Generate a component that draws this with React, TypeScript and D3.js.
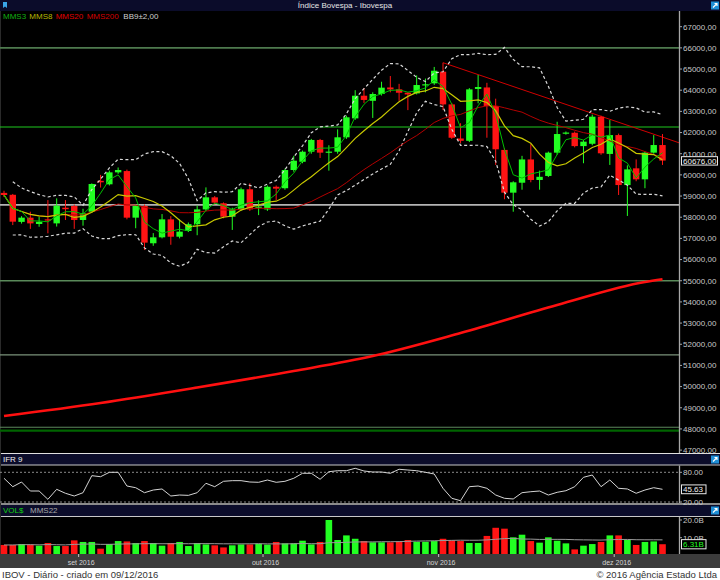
import React, { useEffect, useRef } from "react";
import * as d3 from "d3";

// pregões de 19/08/2016 a 08/12/2016
const dates = [
  "2016-08-19", "2016-08-22", "2016-08-23", "2016-08-24", "2016-08-25", "2016-08-26", "2016-08-29", "2016-08-30", "2016-08-31",
  "2016-09-01", "2016-09-02", "2016-09-05", "2016-09-06", "2016-09-08", "2016-09-09", "2016-09-12", "2016-09-13", "2016-09-14",
  "2016-09-15", "2016-09-16", "2016-09-19", "2016-09-20", "2016-09-21", "2016-09-22", "2016-09-23", "2016-09-26", "2016-09-27",
  "2016-09-28", "2016-09-29", "2016-09-30",
  "2016-10-03", "2016-10-04", "2016-10-05", "2016-10-06", "2016-10-07", "2016-10-10", "2016-10-11", "2016-10-13", "2016-10-14",
  "2016-10-17", "2016-10-18", "2016-10-19", "2016-10-20", "2016-10-21", "2016-10-24", "2016-10-25", "2016-10-26", "2016-10-27",
  "2016-10-28", "2016-10-31",
  "2016-11-01", "2016-11-03", "2016-11-04", "2016-11-07", "2016-11-08", "2016-11-09", "2016-11-10", "2016-11-11", "2016-11-14",
  "2016-11-16", "2016-11-17", "2016-11-18", "2016-11-21", "2016-11-22", "2016-11-23", "2016-11-24", "2016-11-25", "2016-11-28",
  "2016-11-29", "2016-11-30",
  "2016-12-01", "2016-12-02", "2016-12-05", "2016-12-06", "2016-12-07", "2016-12-08",
];

const opens = [
  59150, 59060, 57780, 57980, 57680, 57900, 57710, 58450, 58530, 57870, 58260, 59720, 59555, 60120, 60180, 57980, 58530, 56770,
  57050, 57900, 57080, 57350, 57670, 58370, 58940, 58660, 58025, 58370, 59320, 58450, 58370, 59440, 59370, 60230, 60620, 61095,
  61650, 61050, 61095, 61775, 62670, 63740, 63500, 63820, 64130, 64040, 63880, 63850, 64250, 64325, 64875, 63330, 61720, 61610,
  64060, 64130, 63255, 61180, 59160, 59630, 60730, 59760, 59950, 61050, 61950, 61990, 61360, 61470, 62750, 60990, 61880, 59520,
  60310, 59790, 61050, 61410,
];
const highs = [
  59250, 59100, 58050, 58260, 58025, 58810, 58890, 58810, 58600, 58400, 59600, 60000, 60200, 60350, 60250, 58600, 58600, 57250,
  58150, 58050, 57900, 57750, 58550, 59410, 59000, 58700, 58450, 59400, 59600, 58800, 59500, 59500, 60300, 60900, 61150, 61700,
  61700, 61400, 62150, 62800, 64000, 64100, 63900, 64400, 64670, 64300, 63900, 64700, 64550, 65100, 65300, 63400, 62440, 64100,
  64720, 64350, 63600, 61250, 59700, 60900, 61450, 60200, 61100, 62510, 62050, 62050, 61650, 62850, 62800, 62590, 61950, 60450,
  60730, 61100, 61880, 61930,
];
const lows = [
  58950, 57630, 57700, 57450, 57550, 57240, 57560, 57870, 57450, 57600, 58200, 59400, 59500, 60050, 57900, 57480, 56450, 56650,
  57000, 56700, 57000, 57300, 57150, 58300, 58600, 57950, 57400, 58300, 58300, 58100, 58300, 58810, 59300, 60150, 60550, 61000,
  60800, 60200, 61000, 61700, 62600, 63400, 62690, 63750, 63900, 63500, 63060, 63800, 63900, 64250, 63060, 61700, 61500, 61550,
  63380, 61755, 60470, 58850, 58260, 59300, 59650, 59300, 59900, 60950, 61900, 61300, 60550, 61400, 60950, 60470, 59050, 58060,
  59700, 59370, 61000, 60470,
];
const closes = [
  59050, 57790, 57980, 57710, 57790, 57850, 58545, 58380, 57870, 58185, 59570, 59650, 60120, 60230, 57980, 58530, 56800, 57050,
  57900, 57080, 57320, 57670, 58370, 58940, 58690, 58025, 58370, 59320, 58370, 58500, 59440, 59350, 60230, 60670, 61095, 61650,
  61050, 61100, 61775, 62720, 63740, 63540, 63820, 64120, 64040, 63880, 63800, 64245, 64280, 64920, 63330, 61755, 61610, 64040,
  64150, 63255, 61210, 59160, 59650, 60730, 59760, 59910, 61050, 61930, 62000, 61360, 61570, 62750, 61020, 61880, 59520, 60260,
  59790, 61050, 61410, 60676,
];

// volume financeiro, em bilhões
const volumes = [
  5.9, 5.9, 6.4, 6.1, 5.5, 7.0, 5.3, 5.3, 8.5, 7.6, 7.6, 3.8, 6.4, 8.1, 7.9, 7.0, 8.1, 7.0, 5.5, 7.0, 7.6, 5.3, 7.0, 6.2, 5.7,
  4.5, 5.7, 6.2, 6.2, 6.6, 6.1, 7.6, 6.8, 6.8, 8.3, 6.2, 7.6, 20.0, 8.7, 11.3, 9.4, 8.1, 7.4, 7.4, 7.4, 7.7, 8.7, 7.7, 7.7, 8.1,
  9.4, 8.5, 8.1, 7.0, 7.0, 11.0, 15.6, 15.1, 10.2, 11.7, 8.1, 7.2, 10.2, 8.3, 6.8, 3.4, 5.5, 6.4, 7.6, 11.3, 11.3, 8.7, 5.9, 7.6,
  7.9, 6.31,
];

const ifr9 = [
  67.9, 50.9, 60.4, 42.2, 42.2, 25.4, 45.6, 37.6, 32.1, 38.8, 73.2, 71.1, 80, 80, 52.3, 48.9, 38.8, 44.2, 46.3, 32.1, 34.1, 33.4,
  38.8, 57.8, 50.9, 61.8, 63.1, 63.1, 60.4, 59.8, 64.4, 59.8, 61.8, 67.9, 78, 78, 65.9, 81.2, 83.2, 83.2, 88.1, 82.6, 80.6, 80.6,
  78.0, 86.1, 84.6, 83.2, 80, 76.6, 47.7, 27.5, 22.6, 50.9, 52.3, 47.7, 34.1, 27.5, 26.1, 38.8, 40.8, 42.2, 34.1, 39.6, 42.8, 50.9,
  69.9, 74.5, 50.9, 64.4, 47.7, 46.3, 37.6, 44.2, 48.9, 45.63,
];

// MMS200 lida em alguns pregões: [índice do pregão, valor]
const mms200 = [
  [0, 48609], [11, 49224], [22, 49956], [33, 50735], [42, 51444], [52, 52530], [63, 53853], [73, 54940], [75, 55067],
];

// linhas horizontais traçadas pelo analista
const levels = [66000, 62262, 58580, 55000, 51500, 48080, 47920];
// LTB a partir da máxima de 01/11
const trendline = [[50, 65300], [77, 61500]];

const monthNames = ["jan", "fev", "mar", "abr", "mai", "jun", "jul", "ago", "set", "out", "nov", "dez"];

function sma(values: number[], n: number) {
  return values.map((_, i) => d3.mean(values.slice(Math.max(0, i - n + 1), i + 1)) as number);
}

function bollinger(values: number[], n: number, k: number) {
  return values.map((_, i) => {
    const w = values.slice(Math.max(0, i - n + 1), i + 1);
    const m = d3.mean(w) as number;
    const sd = Math.sqrt(d3.mean(w, (v) => (v - m) * (v - m)) as number);
    return { i, up: m + k * sd, dn: m - k * sd, n: w.length };
  });
}

const FONT = "'Liberation Sans', Arial, sans-serif";
const NAVY = "#0b0c2a";
const UP = "#22ff22";
const DOWN = "#ff1414";

function icon(g: any, x: number, y: number) {
  g.append("rect").attr("x", x).attr("y", y).attr("width", 8).attr("height", 8).attr("fill", "#1f8fd6");
  g.append("path")
    .attr("d", `M${x + 2},${y + 6} L${x + 6},${y + 2} M${x + 3.5},${y + 2} L${x + 6},${y + 2} L${x + 6},${y + 4.5}`)
    .attr("stroke", "#fff")
    .attr("stroke-width", 1.1)
    .attr("fill", "none");
}

export default function App() {
  const ref = useRef<SVGSVGElement>(null);

  useEffect(() => {
    const svg = d3.select(ref.current);
    svg.selectAll("*").remove();

    const plotR = 679;
    const x = d3.scaleLinear().domain([0, dates.length - 1]).range([4, 662.5]);
    const y = d3.scaleLinear().domain([47000, 67000]).range([450.1, 26.7]);
    const yIfr = d3.scaleLinear().domain([20, 80]).range([502, 472.3]);
    const yVol = d3.scaleLinear().domain([0, 20]).range([555.4, 520]);

    // fundos
    svg.append("rect").attr("width", 720).attr("height", 580).attr("fill", "#000");
    svg.append("rect").attr("width", 720).attr("height", 11).attr("fill", NAVY);
    svg.append("rect").attr("y", 454).attr("width", 720).attr("height", 11).attr("fill", NAVY);
    svg.append("rect").attr("y", 505).attr("width", 720).attr("height", 11).attr("fill", NAVY);
    svg.append("rect").attr("y", 554).attr("width", 720).attr("height", 14).attr("fill", "#3c3c3c");
    svg.append("rect").attr("y", 568).attr("width", 720).attr("height", 12).attr("fill", "#fff");
    [[453.5, "#e0e0e0", 1], [465, "#c8c8c8", 1], [504, "#b8b8b8", 1.5], [516.5, "#c8c8c8", 1]].forEach(([yy, c, w]) => {
      svg.append("line").attr("x1", 0).attr("x2", 720).attr("y1", yy).attr("y2", yy).attr("stroke", c).attr("stroke-width", w);
    });
    svg.append("line").attr("x1", 0.5).attr("x2", 0.5).attr("y1", 11).attr("y2", 554).attr("stroke", "#2a2a2a");

    // cabeçalhos
    svg.append("path").attr("d", "M3,2 L7,2 L7,8 L5,6.5 L3,8 Z").attr("fill", "#3aa6e8");
    svg.append("text").attr("x", 345).attr("y", 7.8).attr("text-anchor", "middle").attr("fill", "#e6e6e6")
      .style("font", `8px ${FONT}`).text("Índice Bovespa - Ibovespa");
    icon(svg, 711, 1.5);
    icon(svg, 711, 455.5);
    icon(svg, 711, 506.5);
    svg.append("text").attr("x", 3).attr("y", 461.5).attr("fill", "#f0f0f0").style("font", `8px ${FONT}`).text("IFR 9");
    svg.append("text").attr("x", 3).attr("y", 513).attr("fill", "#10d010").style("font", `8px ${FONT}`).text("VOL$");
    svg.append("text").attr("x", 30).attr("y", 513).attr("fill", "#a8a8a8").style("font", `8px ${FONT}`).text("MMS22");

    // clips
    const defs = svg.append("defs");
    [["c-main", 11, 442], ["c-ifr", 465.5, 38], ["c-vol", 517, 37]].forEach(([id, yy, h]) => {
      defs.append("clipPath").attr("id", id).append("rect").attr("x", 0).attr("y", yy).attr("width", plotR).attr("height", h);
    });

    // ---- painel principal
    const main = svg.append("g").attr("clip-path", "url(#c-main)");
    const levelStyles = [
      ["#4e7a4e", 1.8], ["#1ec81e", 1.2], ["#b4b4b4", 1.8], ["#5a8a5a", 1.5], ["#7a927a", 1.2], ["#5d8a5d", 1], ["#006400", 2.2],
    ];
    levels.forEach((v, i) => {
      main.append("line").attr("x1", 0).attr("x2", plotR).attr("y1", y(v)).attr("y2", y(v))
        .attr("stroke", levelStyles[i][0]).attr("stroke-width", levelStyles[i][1]);
    });

    const idx = dates.map((_, i) => i);
    const line = (vals: number[]) => d3.line<number>().x((i) => x(i)).y((i) => y(vals[i]))(idx);

    main.append("path")
      .attr("d", d3.line<number[]>().x((d) => x(d[0])).y((d) => y(d[1])).curve(d3.curveMonotoneX)(mms200 as any))
      .attr("fill", "none").attr("stroke", "#ff1010").attr("stroke-width", 2.6);

    main.append("path")
      .attr("d", d3.line<number[]>().x((d) => x(d[0])).y((d) => y(d[1]))(trendline as any))
      .attr("fill", "none").attr("stroke", "#d00000").attr("stroke-width", 1);

    // candles
    const cg = main.append("g");
    idx.forEach((i) => {
      const up = closes[i] >= opens[i];
      const col = up ? UP : DOWN;
      const cx = x(i);
      cg.append("line").attr("x1", cx).attr("x2", cx).attr("y1", y(highs[i])).attr("y2", y(lows[i]))
        .attr("stroke", col).attr("stroke-width", 1);
      const top = y(Math.max(opens[i], closes[i]));
      const bot = y(Math.min(opens[i], closes[i]));
      cg.append("rect").attr("x", cx - 3.2).attr("width", 6.4).attr("y", top).attr("height", Math.max(1.2, bot - top))
        .attr("fill", col);
    });

    // Bandas de Bollinger (9, 2)
    const bb = bollinger(closes, 9, 2).filter((d) => d.n > 1);
    ["up", "dn"].forEach((k) => {
      main.append("path")
        .attr("d", d3.line<any>().x((d) => x(d.i)).y((d) => y(d[k]))(bb))
        .attr("fill", "none").attr("stroke", "#d8d8d8").attr("stroke-width", 1.2).attr("stroke-dasharray", "3,2.5");
    });
    main.append("path").attr("d", line(sma(closes, 20))).attr("fill", "none").attr("stroke", "#b40000").attr("stroke-width", 1);
    main.append("path").attr("d", line(sma(closes, 8))).attr("fill", "none").attr("stroke", "#c8c800").attr("stroke-width", 1.2);
    main.append("path").attr("d", line(sma(closes, 3))).attr("fill", "none").attr("stroke", "#00c000").attr("stroke-width", 1);

    // legenda
    const leg = [["MMS3", "#12b012", 3], ["MMS8", "#b8b800", 29.3], ["MMS20", "#e00000", 55.7], ["MMS200", "#d40000", 86.7], ["BB9±2,00", "#cfcfcf", 123.3]];
    leg.forEach(([t, c, lx]) => {
      svg.append("text").attr("x", lx).attr("y", 18.7).attr("fill", c).style("font", `8px ${FONT}`).text(t as string);
    });

    // eixo de preços
    svg.append("line").attr("x1", plotR + 0.5).attr("x2", plotR + 0.5).attr("y1", 11).attr("y2", 453).attr("stroke", "#a8a8a8").attr("stroke-width", 1.3);
    const fmtMain = (v: number) => d3.format(".2f")(v).replace(".", ",");
    d3.range(47000, 67001, 1000).forEach((v) => {
      svg.append("line").attr("x1", plotR).attr("x2", plotR + 3).attr("y1", y(v)).attr("y2", y(v)).attr("stroke", "#a8a8a8");
      svg.append("text").attr("x", 683).attr("y", y(v) + 2.8).attr("fill", "#c8c8c8").style("font", `8px ${FONT}`).text(fmtMain(v));
    });
    const last = closes[closes.length - 1];
    svg.append("rect").attr("x", 681.5).attr("y", y(last) - 3.9).attr("width", 36).attr("height", 8.4)
      .attr("fill", "#000").attr("stroke", "#e8e8e8").attr("stroke-width", 1);
    svg.append("text").attr("x", 683).attr("y", y(last) + 3).attr("fill", "#f4f4f4").style("font", `8px ${FONT}`).text(fmtMain(last));

    // ---- IFR 9
    const ifr = svg.append("g").attr("clip-path", "url(#c-ifr)");
    [80, 20].forEach((v) => {
      ifr.append("line").attr("x1", 0).attr("x2", plotR).attr("y1", yIfr(v)).attr("y2", yIfr(v))
        .attr("stroke", "#8a8a8a").attr("stroke-dasharray", "2,2");
    });
    ifr.append("path").attr("d", d3.line<number>().x((i) => x(i)).y((i) => yIfr(ifr9[i]))(idx))
      .attr("fill", "none").attr("stroke", "#d4d4d4").attr("stroke-width", 1);
    svg.append("line").attr("x1", plotR + 0.5).attr("x2", plotR + 0.5).attr("y1", 465.5).attr("y2", 503).attr("stroke", "#a8a8a8").attr("stroke-width", 1.3);
    [80, 20].forEach((v) => {
      svg.append("line").attr("x1", plotR).attr("x2", plotR + 3).attr("y1", yIfr(v)).attr("y2", yIfr(v)).attr("stroke", "#a8a8a8");
      svg.append("text").attr("x", 683).attr("y", yIfr(v) + 2.8).attr("fill", "#c8c8c8").style("font", `8px ${FONT}`).text(d3.format(".2f")(v));
    });
    const lastIfr = ifr9[ifr9.length - 1];
    svg.append("rect").attr("x", 681.5).attr("y", yIfr(lastIfr) - 4.4).attr("width", 24.5).attr("height", 8.8)
      .attr("fill", "#000").attr("stroke", "#e8e8e8");
    svg.append("text").attr("x", 683).attr("y", yIfr(lastIfr) + 2.8).attr("fill", "#f4f4f4").style("font", `8px ${FONT}`).text(d3.format(".2f")(lastIfr));

    // ---- volume
    const vol = svg.append("g").attr("clip-path", "url(#c-vol)");
    idx.forEach((i) => {
      vol.append("rect").attr("x", x(i) - 3.3).attr("width", 6.6).attr("y", yVol(volumes[i])).attr("height", 560 - yVol(volumes[i]))
        .attr("fill", closes[i] >= opens[i] ? UP : DOWN);
    });
    const volMa = sma(volumes, 22);
    vol.append("path").attr("d", d3.line<number>().x((i) => x(i)).y((i) => yVol(volMa[i]))(idx))
      .attr("fill", "none").attr("stroke", "#9a9a9a").attr("stroke-width", 1);
    svg.append("line").attr("x1", plotR + 0.5).attr("x2", plotR + 0.5).attr("y1", 517).attr("y2", 554).attr("stroke", "#a8a8a8").attr("stroke-width", 1.3);
    [20, 10].forEach((v) => {
      svg.append("line").attr("x1", plotR).attr("x2", plotR + 3).attr("y1", yVol(v)).attr("y2", yVol(v)).attr("stroke", "#a8a8a8");
      svg.append("text").attr("x", 683).attr("y", yVol(v) + 2.8).attr("fill", "#c8c8c8").style("font", `8px ${FONT}`).text(d3.format(".1f")(v) + "B");
    });
    const lastVol = volumes[volumes.length - 1];
    svg.append("rect").attr("x", 681.5).attr("y", yVol(lastVol) - 4.6).attr("width", 24.5).attr("height", 9.2)
      .attr("fill", "#000").attr("stroke", "#e8e8e8");
    svg.append("text").attr("x", 683).attr("y", yVol(lastVol) + 2.8).attr("fill", "#22ff22").style("font", `8px ${FONT}`).text(d3.format(".2f")(lastVol) + "B");

    // ---- eixo de datas
    idx.filter((i) => i > 0 && dates[i].slice(0, 7) !== dates[i - 1].slice(0, 7)).forEach((i) => {
      const tx = x(i - 0.5);
      const dt = new Date(dates[i] + "T12:00:00");
      svg.append("line").attr("x1", tx).attr("x2", tx).attr("y1", 554).attr("y2", 557).attr("stroke", "#c0c0c0");
      svg.append("text").attr("x", tx + 2.5).attr("y", 564.5).attr("text-anchor", "middle").attr("fill", "#d4d4d4")
        .style("font", `7px ${FONT}`).text(`${monthNames[dt.getMonth()]} ${dt.getFullYear()}`);
    });

    // rodapé
    svg.append("text").attr("x", 2).attr("y", 577.5).attr("fill", "#333").style("font", `9.5px ${FONT}`).text("IBOV - Diário - criado em 09/12/2016");
    svg.append("text").attr("x", 717).attr("y", 577.5).attr("text-anchor", "end").attr("fill", "#333").style("font", `9.5px ${FONT}`).text("© 2016 Agência Estado Ltda");
  }, []);

  return (
    <div>
      <style>{"body{margin:0;}"}</style>
      <svg ref={ref} width={720} height={580} style={{ display: "block" }} />
    </div>
  );
}
